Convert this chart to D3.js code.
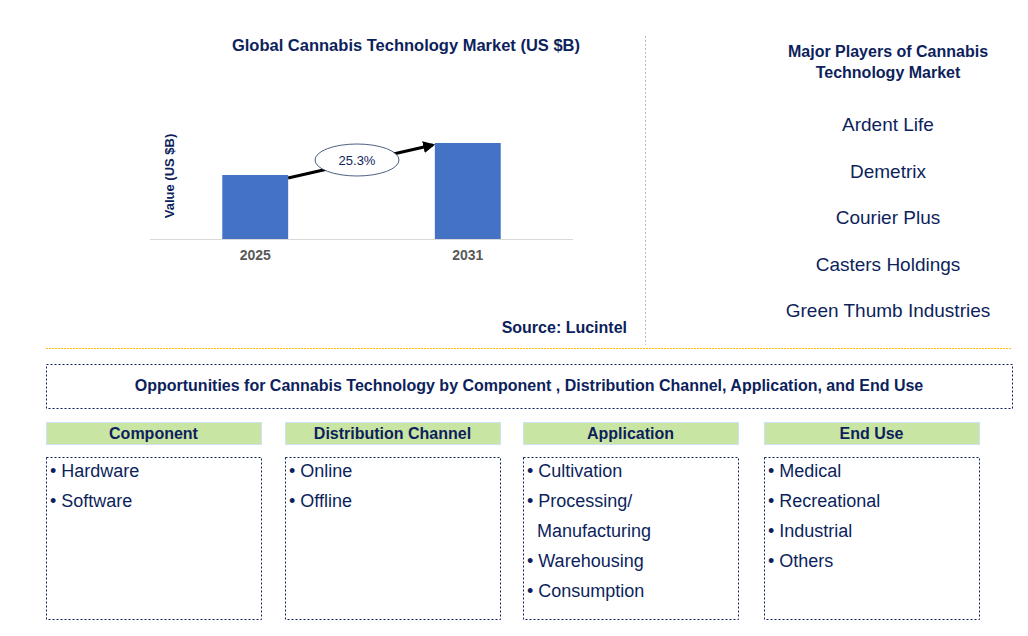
<!DOCTYPE html>
<html><head><meta charset="utf-8">
<script src="https://cdn.jsdelivr.net/npm/d3@7"></script>
<style>body{margin:0;background:#fff}text{font-family:Arial,"Liberation Sans",sans-serif}</style>
</head><body><svg id="c" width="1028" height="636"></svg>
<script>
var years = ["2025", "2031"];
var values = [0.8, 1.2];
var cagr = "25.3%";
var players = ["Ardent Life", "Demetrix", "Courier Plus", "Casters Holdings", "Green Thumb Industries"];
var segments = ["Component", "Distribution Channel", "Application", "End Use"];
var segmentItems = [
    ["Hardware", "Software"],
    ["Online", "Offline"],
    ["Cultivation", "Processing/\nManufacturing", "Warehousing", "Consumption"],
    ["Medical", "Recreational", "Industrial", "Others"]
];

var navy = "#0d1f5c";
var svg = d3.select("#c");

svg.append("text").attr("x", 406).attr("y", 51).attr("text-anchor", "middle")
    .attr("font-size", 16.5).attr("font-weight", "bold").attr("fill", navy)
    .text("Global Cannabis Technology Market (US $B)");

var x = d3.scaleBand().domain(years).range([150, 573]).paddingInner(0.69).paddingOuter(0.34);
var y = d3.scaleLinear().domain([0, 1.2]).range([239, 143]);

svg.append("line").attr("x1", 150).attr("x2", 573).attr("y1", 239.5).attr("y2", 239.5)
    .attr("stroke", "#d9d9d9");
svg.selectAll("rect.bar").data(values).join("rect").attr("class", "bar")
    .attr("x", (d, i) => x(years[i])).attr("width", x.bandwidth())
    .attr("y", d => y(d)).attr("height", d => y(0) - y(d)).attr("fill", "#4472c4");
svg.selectAll("text.yr").data(years).join("text").attr("class", "yr")
    .attr("x", d => x(d) + x.bandwidth() / 2).attr("y", 260).attr("text-anchor", "middle")
    .attr("font-size", 14).attr("font-weight", "bold").attr("fill", "#595959").text(d => d);
svg.append("text").attr("transform", "translate(174,176) rotate(-90)").attr("text-anchor", "middle")
    .attr("font-size", 13).attr("font-weight", "bold").attr("fill", navy).text("Value (US $B)");

svg.append("defs").append("marker").attr("id", "ah").attr("viewBox", "0 0 10 10")
    .attr("refX", 8).attr("refY", 5).attr("markerWidth", 4).attr("markerHeight", 4).attr("orient", "auto")
    .append("path").attr("d", "M0,0L10,5L0,10z").attr("fill", "#000");
var x0 = x(years[0]) + x.bandwidth(), x1 = x(years[1]);
svg.append("line").attr("x1", x0).attr("y1", y(values[0]) + 3).attr("x2", x1 - 2).attr("y2", y(values[1]) + 2)
    .attr("stroke", "#000").attr("stroke-width", 3).attr("marker-end", "url(#ah)");
svg.append("ellipse").attr("cx", 357).attr("cy", 160).attr("rx", 42).attr("ry", 16)
    .attr("fill", "#fff").attr("stroke", "#1f3864").attr("stroke-width", 0.8);
svg.append("text").attr("x", 357).attr("y", 165).attr("text-anchor", "middle")
    .attr("font-size", 13).attr("fill", navy).text(cagr);

svg.append("text").attr("x", 627).attr("y", 333).attr("text-anchor", "end")
    .attr("font-size", 16).attr("font-weight", "bold").attr("fill", navy).text("Source: Lucintel");

svg.append("line").attr("x1", 645.5).attr("x2", 645.5).attr("y1", 36).attr("y2", 345)
    .attr("stroke", "#bfbfbf").attr("stroke-dasharray", "2,2");
svg.append("line").attr("x1", 46).attr("x2", 1012).attr("y1", 348.5).attr("y2", 348.5)
    .attr("stroke", "#ffc000").attr("stroke-dasharray", "2,1");

svg.append("text").attr("x", 888).attr("y", 57).attr("text-anchor", "middle")
    .attr("font-size", 16).attr("font-weight", "bold").attr("fill", navy)
    .selectAll("tspan").data(["Major Players of Cannabis", "Technology Market"]).join("tspan")
    .attr("x", 888).attr("dy", (d, i) => i ? 21 : 0).text(d => d);
svg.selectAll("text.pl").data(players).join("text").attr("class", "pl")
    .attr("x", 888).attr("y", (d, i) => 131 + i * 46.5).attr("text-anchor", "middle")
    .attr("font-size", 19).attr("fill", navy).text(d => d);

svg.append("rect").attr("x", 46.5).attr("y", 364.5).attr("width", 966).attr("height", 44)
    .attr("fill", "none").attr("stroke", navy).attr("stroke-dasharray", "2,2");
svg.append("text").attr("x", 529).attr("y", 391).attr("text-anchor", "middle")
    .attr("font-size", 16).attr("font-weight", "bold").attr("fill", navy)
    .text("Opportunities for Cannabis Technology by Component , Distribution Channel, Application, and End Use");

var colX = [46, 285, 523, 764], colW = 215;
segments.forEach(function (s, i) {
    var g = svg.append("g").attr("transform", "translate(" + colX[i] + ",0)");
    g.append("rect").attr("x", 0.5).attr("y", 422.5).attr("width", colW).attr("height", 22)
        .attr("fill", "#c9e5a3").attr("stroke", "#cfe2f3");
    g.append("text").attr("x", colW / 2).attr("y", 439).attr("text-anchor", "middle")
        .attr("font-size", 16).attr("font-weight", "bold").attr("fill", navy).text(s);
    g.append("rect").attr("x", 0.5).attr("y", 457.5).attr("width", colW).attr("height", 162)
        .attr("fill", "none").attr("stroke", navy).attr("stroke-dasharray", "2,2");
    var line = 0;
    segmentItems[i].forEach(function (it) {
        it.split("\n").forEach(function (part, k) {
            g.append("text").attr("x", k ? 14 : 4).attr("y", 477 + line * 30)
                .attr("font-size", 18).attr("fill", navy).text((k ? "" : "• ") + part);
            line++;
        });
    });
});
</script></body></html>
